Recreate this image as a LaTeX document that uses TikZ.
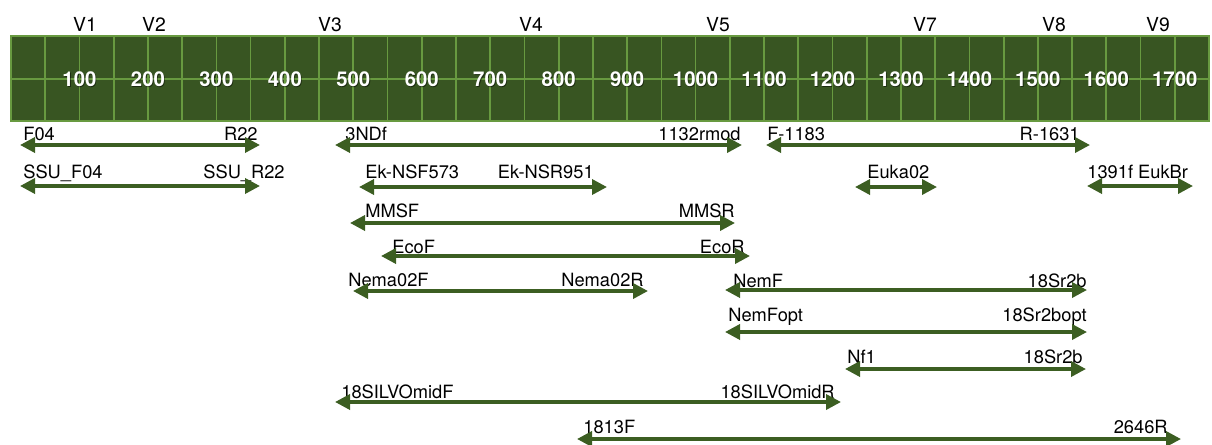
\documentclass[tikz,border=0pt]{standalone}
\usepackage{fontspec}
\setmainfont{TeX Gyre Heros}
\usepackage{tikz}
\usetikzlibrary{arrows.meta, positioning}

\definecolor{barfill}{RGB}{56,85,34}
\definecolor{gridgreen}{RGB}{104,154,64}
\definecolor{primergreen}{RGB}{60,94,34}

\begin{document}
\begin{tikzpicture}[x=0.2mm, y=-0.2mm,
        primer/.style={draw=primergreen, line width=0.7mm, {Triangle[length=3mm, width=3mm]}-{Triangle[length=3mm, width=3mm]}},
        fwd/.style={anchor=base west, inner sep=0pt, font=\fontsize{10.4}{12}\selectfont},
        rev/.style={anchor=base east, inner sep=0pt, font=\fontsize{10.4}{12}\selectfont},
        region/.style={anchor=base, inner sep=0pt, font=\fontsize{11}{13}\selectfont},
        bplabel/.style={inner sep=0pt, text=white, font=\fontsize{11.6}{13}\selectfont\bfseries},
        bpshadow/.style={bplabel, text=black, opacity=0.5}
    ]
        \useasboundingbox (0,0) rectangle (1212,445);

        % Variable regions
        \node[region] (v1) at (85,31) {V1};
        \node[region] (v2) at (154,31) {V2};
        \node[region] (v3) at (330,31) {V3};
        \node[region] (v4) at (531,31) {V4};
        \node[region] (v5) at (718,31) {V5};
        \node[region] (v7) at (925,31) {V7};
        \node[region] (v8) at (1054,31) {V8};
        \node[region] (v9) at (1158,31) {V9};

        % Sequence bar
        \draw[gridgreen, fill=barfill, line width=0.4mm] (11,36) rectangle (1209,121);
        \foreach \k in {1,...,34}
            \draw[gridgreen, line width=0.35mm] ({11+34.23*\k},36) -- ({11+34.23*\k},121);
        \draw[gridgreen, line width=0.35mm] (11,79) -- (1209,79);
        \foreach \n in {100,200,...,1700} {
            \node[bpshadow] (s\n) at ({11.8+0.6846*\n},80.3) {\n};
            \node[bplabel] (p\n) at ({11+0.6846*\n},79) {\n};
        }

        % Row 1
        \node[fwd] (f04) at (23,140) {F04};
        \node[rev] (r22) at (258,140) {R22};
        \coordinate (f04t) at (20,145);
        \coordinate (r22t) at (260,145);
        \draw[primer] (f04t) -- (r22t);
        \node[fwd] (ndf) at (345,140) {3NDf};
        \node[rev] (rmod) at (741,140) {1132rmod};
        \coordinate (ndft) at (335,145);
        \coordinate (rmodt) at (742,145);
        \draw[primer] (ndft) -- (rmodt);
        \node[fwd] (f1183) at (767,140) {F-1183};
        \node[rev] (r1631) at (1080,140) {R-1631};
        \coordinate (f1183t) at (766,145);
        \coordinate (r1631t) at (1090,145);
        \draw[primer] (f1183t) -- (r1631t);

        % Row 2
        \node[fwd] (ssuf) at (23,178) {SSU\_F04};
        \node[rev] (ssur) at (285,178) {SSU\_R22};
        \coordinate (ssuft) at (20,186);
        \coordinate (ssurt) at (260,186);
        \draw[primer] (ssuft) -- (ssurt);
        \node[fwd] (eknsf) at (365,178) {Ek-NSF573};
        \node[rev] (eknsr) at (594,178) {Ek-NSR951};
        \coordinate (eknsft) at (359,187);
        \coordinate (eknsrt) at (607,187);
        \draw[primer] (eknsft) -- (eknsrt);
        \node[fwd] (euka) at (867,178) {Euka02};
        \coordinate (eukal) at (855,187);
        \coordinate (eukar) at (937,187);
        \draw[primer] (eukal) -- (eukar);
        \node[fwd] (eukbr) at (1087,178) {1391f EukBr};
        \coordinate (eukbrl) at (1087,186);
        \coordinate (eukbrr) at (1193,186);
        \draw[primer] (eukbrl) -- (eukbrr);

        % Row 3
        \node[fwd] (mmsf) at (365,217) {MMSF};
        \node[rev] (mmsr) at (735,217) {MMSR};
        \coordinate (mmsft) at (350,223);
        \coordinate (mmsrt) at (735,223);
        \draw[primer] (mmsft) -- (mmsrt);

        % Row 4
        \node[fwd] (ecof) at (392,253) {EcoF};
        \node[rev] (ecor) at (745,253) {EcoR};
        \coordinate (ecoft) at (381,256);
        \coordinate (ecort) at (750,256);
        \draw[primer] (ecoft) -- (ecort);

        % Row 5
        \node[fwd] (nemaf) at (348,286) {Nema02F};
        \node[rev] (nemar) at (644,286) {Nema02R};
        \coordinate (nemaft) at (353,291);
        \coordinate (nemart) at (648,291);
        \draw[primer] (nemaft) -- (nemart);
        \node[fwd] (nemf) at (733,287) {NemF};
        \node[rev] (srb) at (1087,287) {18Sr2b};
        \coordinate (nemft) at (725,290);
        \coordinate (srbt) at (1087,290);
        \draw[primer] (nemft) -- (srbt);

        % Row 6
        \node[fwd] (nemfopt) at (728,321) {NemFopt};
        \node[rev] (srbopt) at (1087,321) {18Sr2bopt};
        \coordinate (nemfoptt) at (725,332);
        \coordinate (srboptt) at (1087,332);
        \draw[primer] (nemfoptt) -- (srboptt);

        % Row 7
        \node[fwd] (nf1) at (847,363) {Nf1};
        \node[rev] (srbb) at (1083,363) {18Sr2b};
        \coordinate (nf1t) at (845,369);
        \coordinate (srbbt) at (1086,369);
        \draw[primer] (nf1t) -- (srbbt);

        % Row 8
        \node[fwd] (silvf) at (341,398) {18SILVOmidF};
        \node[rev] (silvr) at (835,398) {18SILVOmidR};
        \coordinate (silvft) at (335,402);
        \coordinate (silvrt) at (841,402);
        \draw[primer] (silvft) -- (silvrt);

        % Row 9
        \node[fwd] (f1813) at (583,433) {1813F};
        \node[rev] (r2646) at (1168,433) {2646R};
        \coordinate (f1813t) at (577,439);
        \coordinate (r2646t) at (1181,439);
        \draw[primer] (f1813t) -- (r2646t);
    \end{tikzpicture}
\end{document}
